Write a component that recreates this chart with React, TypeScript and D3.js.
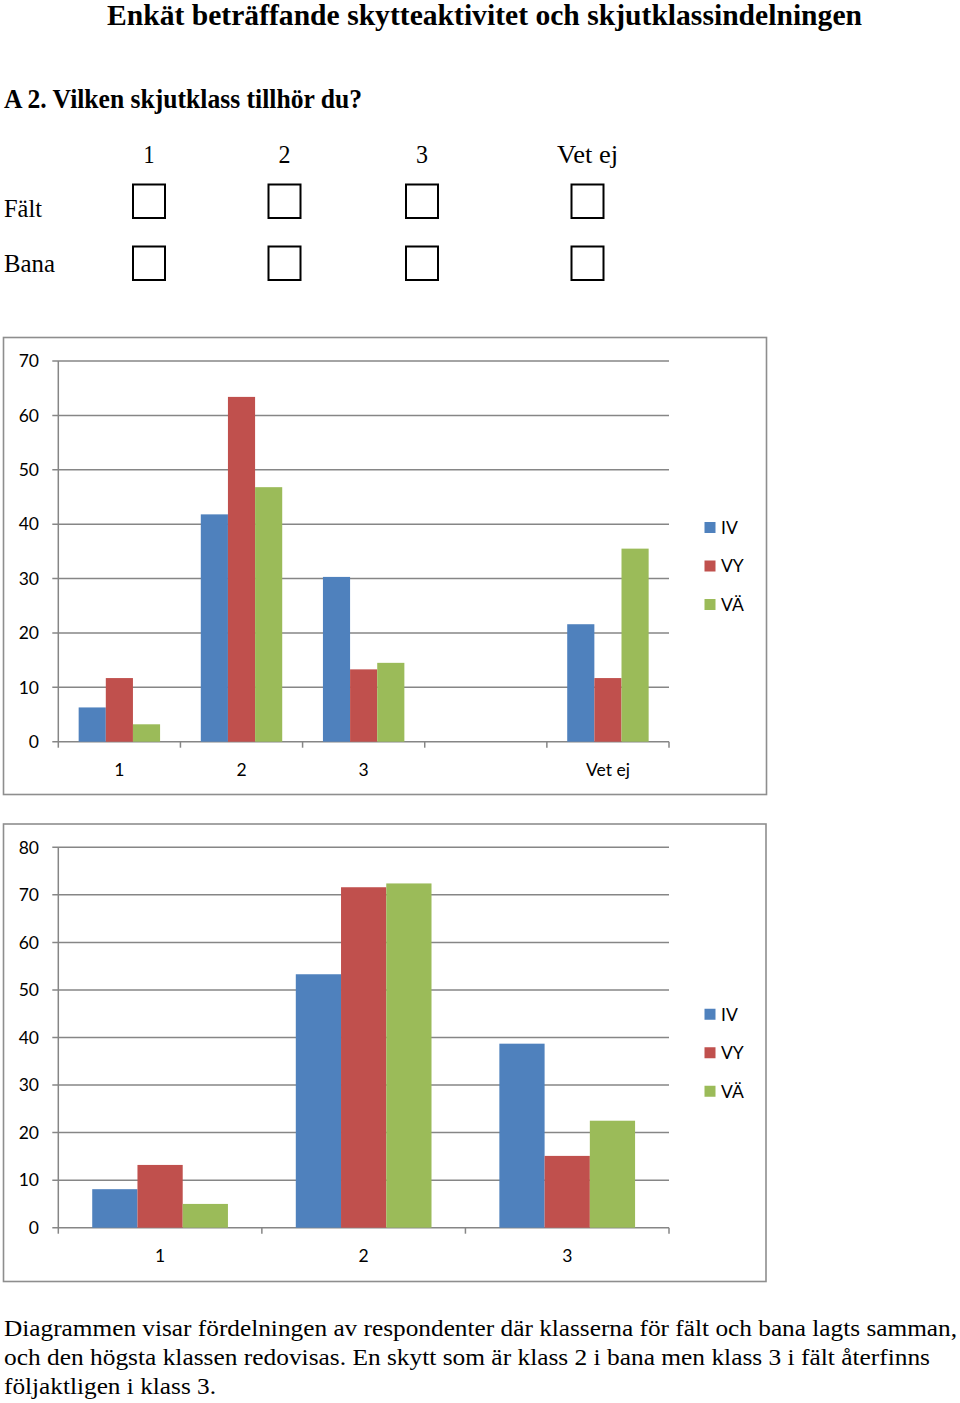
import React from 'react';
import * as d3 from 'd3';

// ---------- data ----------
const seriesNames = ['IV', 'VY', 'VÄ'];
const seriesColors = ['#4F81BD', '#C0504D', '#9BBB59'];

const faltCategories = ['1', '2', '3', '', 'Vet ej'];
const faltIV = [6.3, 41.8, 30.3, null, 21.6];
const faltVY = [11.7, 63.4, 13.3, null, 11.7];
const faltVA = [3.2, 46.8, 14.5, null, 35.5];
const faltTicks = [0, 10, 20, 30, 40, 50, 60, 70];

const banaCategories = ['1', '2', '3'];
const banaIV = [8.1, 53.3, 38.7];
const banaVY = [13.2, 71.6, 15.1];
const banaVA = [5.0, 72.4, 22.5];
const banaTicks = [0, 10, 20, 30, 40, 50, 60, 70, 80];

const checkColumns = ['1', '2', '3', 'Vet ej'];
const checkRows = ['Fält', 'Bana'];

const titleText = 'Enkät beträffande skytteaktivitet och skjutklassindelningen';
const questionText = 'A 2. Vilken skjutklass tillhör du?';
const bottomLines = [
  'Diagrammen visar fördelningen av respondenter där klasserna för fält och bana lagts samman,',
  'och den högsta klassen redovisas. En skytt som är klass 2 i bana men klass 3 i fält återfinns',
  'följaktligen i klass 3.',
];

const SERIF = '"Liberation Serif", "Times New Roman", serif';
const SANS = 'Lato, "Open Sans", sans-serif';

type ChartProps = {
  frame: { x: number; y: number; w: number; h: number };
  plot: { left: number; right: number; top: number; bottom: number };
  categories: string[];
  values: (number | null)[][];
  ticks: number[];
  yMax: number;
};

function BarChart({ frame, plot, categories, values, ticks, yMax }: ChartProps) {
  const x = d3.scaleBand<number>()
    .domain(categories.map((_, i) => i))
    .range([plot.left, plot.right])
    .paddingInner(0)
    .paddingOuter(0);
  const bw = x.bandwidth();
  const barW = bw / 4.5;
  const groupOffset = (bw - barW * 3) / 2;
  const y = d3.scaleLinear().domain([0, yMax]).range([plot.bottom, plot.top]);
  const grid = '#868686';
  const legendCenter = frame.y + frame.h / 2;
  const legendGap = 38.5;

  const boundaries = categories.map((_, i) => x(i) as number).concat([plot.right]);

  return (
    <g>
      <rect x={frame.x} y={frame.y} width={frame.w} height={frame.h}
        fill="#fff" stroke="#8e8e8e" strokeWidth={1.6} />
      {ticks.map((t) => (
        <g key={'g' + t}>
          <line x1={plot.left - 6} x2={plot.right} y1={y(t)} y2={y(t)}
            stroke={grid} strokeWidth={1.5} />
          <text x={39} y={y(t)} dy="0.36em" textAnchor="end"
            fontFamily={SANS} fontSize={17.5} fill="#000">{t}</text>
        </g>
      ))}
      <line x1={plot.left} x2={plot.left} y1={plot.top} y2={plot.bottom}
        stroke={grid} strokeWidth={1.5} />
      {boundaries.map((b, i) => (
        <line key={'t' + i} x1={b} x2={b} y1={plot.bottom} y2={plot.bottom + 6}
          stroke={grid} strokeWidth={1.5} />
      ))}
      {values.map((ser, si) =>
        ser.map((v, ci) => v == null ? null : (
          <rect key={`b${si}-${ci}`}
            x={(x(ci) as number) + groupOffset + si * barW}
            y={y(v)} width={barW} height={y(0) - y(v)}
            fill={seriesColors[si]} />
        ))
      )}
      {categories.map((c, i) => (
        <text key={'c' + i} x={(x(i) as number) + bw / 2} y={plot.bottom + 34}
          textAnchor="middle" fontFamily={SANS} fontSize={17.5} fill="#000">{c}</text>
      ))}
      {seriesNames.map((s, i) => {
        const cy = legendCenter + (i - 1) * legendGap;
        return (
          <g key={'l' + s}>
            <rect x={704.5} y={cy - 5.5} width={11} height={11} fill={seriesColors[i]} />
            <text x={721} y={cy} dy="0.36em" fontFamily={SANS} fontSize={17.5} fill="#000">{s}</text>
          </g>
        );
      })}
    </g>
  );
}

export default function App() {
  const colCenters = [149, 284.5, 422, 587.5];
  const colLabelLen = [11, 12, 12, 61];
  const rowBoxTop = [184.5, 246.5];
  const rowBaselines = [217, 272];
  const rowLabelLen = [38, 51];
  return (
    <svg width={960} height={1403} viewBox="0 0 960 1403"
      style={{ position: 'absolute', left: 0, top: 0, display: 'block', background: '#fff' }}>
      <rect x={0} y={0} width={960} height={1403} fill="#fff" />
      <text x={107} y={25} fontFamily={SERIF} fontWeight="bold" fontSize={29}
        textLength={755} lengthAdjust="spacingAndGlyphs">{titleText}</text>
      <text x={4} y={108} fontFamily={SERIF} fontWeight="bold" fontSize={27}
        textLength={358} lengthAdjust="spacingAndGlyphs">{questionText}</text>

      {checkColumns.map((c, i) => (
        <text key={'cc' + c} x={colCenters[i] - colLabelLen[i] / 2} y={163}
          fontFamily={SERIF} fontSize={25.5}
          textLength={colLabelLen[i]} lengthAdjust="spacingAndGlyphs">{c}</text>
      ))}
      {checkRows.map((r, ri) => (
        <g key={'r' + r}>
          <text x={4} y={rowBaselines[ri]} fontFamily={SERIF} fontSize={25.5}
            textLength={rowLabelLen[ri]} lengthAdjust="spacingAndGlyphs">{r}</text>
          {colCenters.map((cx, ci) => (
            <rect key={'bx' + ci} x={cx - 16} y={rowBoxTop[ri]} width={32} height={33.5}
              fill="none" stroke="#000" strokeWidth={2} />
          ))}
        </g>
      ))}

      <BarChart
        frame={{ x: 3.5, y: 337.5, w: 763, h: 457 }}
        plot={{ left: 58.3, right: 669, top: 361, bottom: 741.7 }}
        categories={faltCategories}
        values={[faltIV, faltVY, faltVA]}
        ticks={faltTicks}
        yMax={70}
      />
      <BarChart
        frame={{ x: 3.5, y: 824, w: 762.5, h: 457.5 }}
        plot={{ left: 58.3, right: 669, top: 847.3, bottom: 1227.7 }}
        categories={banaCategories}
        values={[banaIV, banaVY, banaVA]}
        ticks={banaTicks}
        yMax={80}
      />

      {bottomLines.map((l, i) => (
        <text key={'bl' + i} x={4} y={1336 + i * 29} fontFamily={SERIF} fontSize={24}
          textLength={[953, 926, 212][i]} lengthAdjust="spacingAndGlyphs">{l}</text>
      ))}
    </svg>
  );
}
